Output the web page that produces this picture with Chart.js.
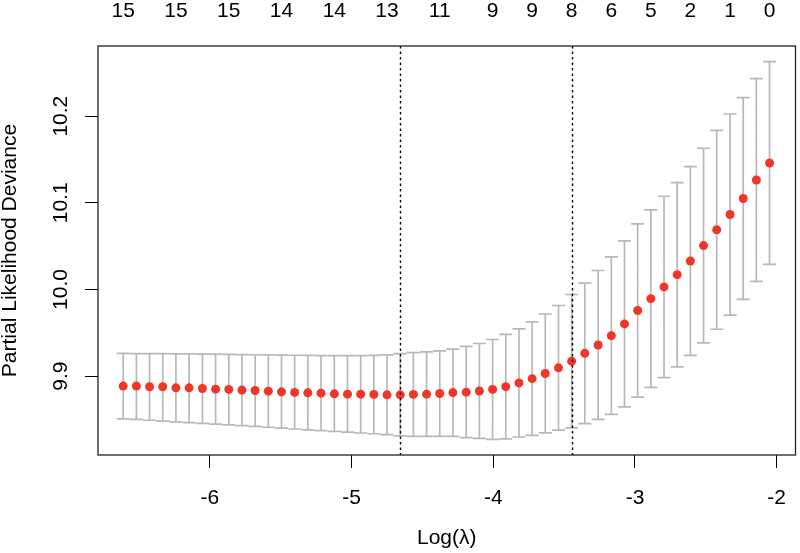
<!DOCTYPE html>
<html>
<head>
<meta charset="utf-8">
<script src="https://cdn.jsdelivr.net/npm/chart.js@4.4.0/dist/chart.umd.min.js"></script>
<style>
  html, body { margin: 0; padding: 0; background: #fff; }
</style>
</head>
<body>
<canvas id="cv" width="800" height="553"></canvas>
<script>
// log(lambda) path, one value per fitted lambda
const logLambda = [
  -6.612, -6.519, -6.426, -6.333, -6.240, -6.147, -6.053, -5.960, -5.867, -5.774,
  -5.681, -5.588, -5.495, -5.402, -5.309, -5.216, -5.122, -5.029, -4.936, -4.843,
  -4.750, -4.657, -4.564, -4.471, -4.378, -4.285, -4.191, -4.098, -4.005, -3.912,
  -3.819, -3.726, -3.633, -3.540, -3.447, -3.354, -3.260, -3.167, -3.074, -2.981,
  -2.888, -2.795, -2.702, -2.609, -2.516, -2.423, -2.329, -2.236, -2.143, -2.050
];
// mean cross-validated partial likelihood deviance
const cvm = [
  9.8885, 9.8885, 9.8877, 9.8877, 9.8865, 9.8865, 9.8858, 9.8850, 9.8847, 9.8839,
  9.8835, 9.8827, 9.8819, 9.8812, 9.8807, 9.8804, 9.8796, 9.8792, 9.8792, 9.8789,
  9.8784, 9.8784, 9.8789, 9.8792, 9.8800, 9.8810, 9.8815, 9.8829, 9.8847, 9.8879,
  9.8922, 9.8971, 9.9031, 9.9096, 9.9173, 9.9263, 9.9360, 9.9467, 9.9603, 9.9758,
  9.9894, 10.0030, 10.0171, 10.0329, 10.0507, 10.0689, 10.0865, 10.1050, 10.1264, 10.1460
];
// upper / lower error bar ends
const cvup = [
  9.9262, 9.9261, 9.9260, 9.9259, 9.9258, 9.9256, 9.9255, 9.9253, 9.9251, 9.9249,
  9.9247, 9.9245, 9.9243, 9.9241, 9.9239, 9.9237, 9.9236, 9.9236, 9.9237, 9.9240,
  9.9246, 9.9260, 9.9272, 9.9280, 9.9292, 9.9311, 9.9343, 9.9377, 9.9423, 9.9481,
  9.9546, 9.9626, 9.9717, 9.9815, 9.9942, 10.0073, 10.0219, 10.0376, 10.0561, 10.0757,
  10.0918, 10.1076, 10.1234, 10.1419, 10.1630, 10.1837, 10.2025, 10.2215, 10.2434, 10.2630
];
const cvlo = [
  9.8508, 9.8500, 9.8491, 9.8482, 9.8473, 9.8464, 9.8456, 9.8447, 9.8438, 9.8429,
  9.8420, 9.8410, 9.8400, 9.8390, 9.8381, 9.8371, 9.8362, 9.8353, 9.8344, 9.8335,
  9.8324, 9.8310, 9.8306, 9.8304, 9.8306, 9.8305, 9.8290, 9.8281, 9.8271, 9.8277,
  9.8298, 9.8316, 9.8345, 9.8377, 9.8404, 9.8453, 9.8501, 9.8558, 9.8645, 9.8759,
  9.8870, 9.8984, 9.9108, 9.9239, 9.9384, 9.9541, 9.9705, 9.9885, 10.0094, 10.0290
];

const lambdaMin = -4.657;
const lambda1se = -3.447;

// top axis: number of non-zero coefficients
const nzTickLog = [-6.612, -6.240, -5.867, -5.495, -5.122, -4.750, -4.378, -4.005,
                   -3.726, -3.447, -3.167, -2.888, -2.609, -2.329, -2.050];
const nzLabels = ['15', '15', '15', '14', '14', '13', '11', '9', '9', '8', '6', '5', '2', '1', '0'];

const xTicks = [-6, -5, -4, -3, -2];
const yTicks = [9.9, 10.0, 10.1, 10.2];

const FONT = '"Liberation Sans", Arial, Helvetica, sans-serif';
const FS = 21;
Chart.defaults.font.family = FONT;
Chart.defaults.font.size = FS;
Chart.defaults.color = '#000';

const points = logLambda.map((x, i) => ({ x: x, y: cvm[i] }));

// keep the plot box fixed: no extra room for edge labels
function fixBox(size, key) {
  return s => {
    s[key] = size;
    s.paddingLeft = s.paddingRight = s.paddingTop = s.paddingBottom = 0;
  };
}

// grey error bars with caps, drawn under the points
const errorBars = {
  id: 'errorBars',
  beforeDatasetsDraw(chart) {
    const { ctx, scales: { x, y } } = chart;
    const capHalf = 0.046;
    ctx.save();
    ctx.strokeStyle = '#b8b8b8';
    ctx.lineWidth = 1.7;
    ctx.beginPath();
    logLambda.forEach((lx, i) => {
      const px = x.getPixelForValue(lx);
      const pu = y.getPixelForValue(cvup[i]);
      const pl = y.getPixelForValue(cvlo[i]);
      const c0 = x.getPixelForValue(lx - capHalf);
      const c1 = x.getPixelForValue(lx + capHalf);
      ctx.moveTo(px, pu); ctx.lineTo(px, pl);
      ctx.moveTo(c0, pu); ctx.lineTo(c1, pu);
      ctx.moveTo(c0, pl); ctx.lineTo(c1, pl);
    });
    ctx.stroke();
    ctx.restore();
  }
};

// dotted lambda.min / lambda.1se lines, plot box, rotated y labels
const overlay = {
  id: 'overlay',
  afterDatasetsDraw(chart) {
    const { ctx, chartArea: a, scales: { x } } = chart;
    ctx.save();
    ctx.strokeStyle = '#000';
    ctx.lineWidth = 1.4;
    ctx.setLineDash([2.5, 3]);
    [lambdaMin, lambda1se].forEach(v => {
      const px = Math.round(x.getPixelForValue(v)) + 0.5;
      ctx.beginPath();
      ctx.moveTo(px, a.top);
      ctx.lineTo(px, a.bottom);
      ctx.stroke();
    });
    ctx.restore();
  },
  afterDraw(chart) {
    const { ctx, chartArea: a, scales: { y } } = chart;
    ctx.save();
    ctx.strokeStyle = '#222';
    ctx.lineWidth = 1.3;
    ctx.strokeRect(a.left, a.top, a.right - a.left, a.bottom - a.top);
    ctx.fillStyle = '#000';
    ctx.font = FS + 'px ' + FONT;
    ctx.textAlign = 'center';
    ctx.textBaseline = 'middle';
    yTicks.forEach(v => {
      ctx.save();
      ctx.translate(61, y.getPixelForValue(v));
      ctx.rotate(-Math.PI / 2);
      ctx.fillText(v.toFixed(1), 0, 0);
      ctx.restore();
    });
    ctx.restore();
  }
};

new Chart(document.getElementById('cv'), {
  type: 'scatter',
  data: {
    datasets: [{
      data: points,
      pointRadius: 4.5,
      pointHoverRadius: 4.5,
      pointBackgroundColor: '#f0352a',
      pointBorderWidth: 0
    }]
  },
  options: {
    responsive: false,
    animation: false,
    layout: { padding: { right: 2 } },
    plugins: { legend: { display: false }, tooltip: { enabled: false } },
    scales: {
      x: {
        type: 'linear',
        position: 'bottom',
        min: -6.79,
        max: -1.867,
        afterBuildTicks: s => { s.ticks = xTicks.map(v => ({ value: v })); },
        afterFit: fixBox(98, 'height'),
        ticks: { autoSkip: false, maxRotation: 0, padding: 18, callback: v => String(v) },
        grid: { drawOnChartArea: false, tickLength: 13, color: '#000', tickWidth: 1 },
        border: { display: false },
        title: { display: true, text: 'Log(λ)', font: { size: FS, lineHeight: 1 }, padding: { top: 0, bottom: 4 } }
      },
      x2: {
        type: 'linear',
        axis: 'x',
        position: 'top',
        min: -6.79,
        max: -1.867,
        afterBuildTicks: s => { s.ticks = nzTickLog.map(v => ({ value: v })); },
        afterFit: fixBox(46, 'height'),
        ticks: { autoSkip: false, maxRotation: 0, padding: 22, callback: (v, i) => nzLabels[i] },
        grid: { display: false, drawTicks: false },
        border: { display: false }
      },
      y: {
        type: 'linear',
        min: 9.809,
        max: 10.281,
        afterBuildTicks: s => { s.ticks = yTicks.map(v => ({ value: v })); },
        afterFit: fixBox(98, 'width'),
        ticks: { callback: () => '' },
        grid: { drawOnChartArea: false, tickLength: 13, color: '#000', tickWidth: 1 },
        border: { display: false },
        title: { display: true, text: 'Partial Likelihood Deviance', font: { size: FS, lineHeight: 1 }, padding: { top: 0, bottom: 0 } }
      }
    }
  },
  plugins: [errorBars, overlay]
});
</script>
</body>
</html>
